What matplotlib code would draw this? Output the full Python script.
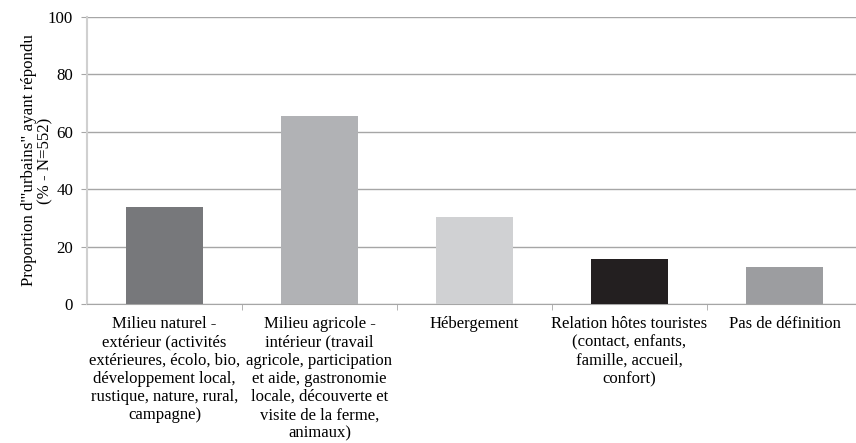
import numpy as np
import matplotlib
matplotlib.use('Agg')
import matplotlib.pyplot as plt

plt.rcParams['font.family'] = ['Liberation Serif', 'DejaVu Serif']

categories = [
    "Milieu naturel -\nextérieur (activités\nextérieures, écolo, bio,\ndéveloppement local,\nrustique, nature, rural,\ncampagne)",
    "Milieu agricole -\nintérieur (travail\nagricole, participation\net aide, gastronomie\nlocale, découverte et\nvisite de la ferme,\nanimaux)",
    "Hébergement",
    "Relation hôtes touristes\n(contact, enfants,\nfamille, accueil,\nconfort)",
    "Pas de définition",
]
values = [33.7, 65.4, 30.3, 15.7, 13.0]
colors = ['#77787b', '#b1b2b5', '#d0d1d3', '#231f20', '#9c9da0']
yticks = [0, 20, 40, 60, 80, 100]

fig = plt.figure(figsize=(8.56, 4.43), dpi=100)
# the plot area runs past the right edge of the picture, as in the original
ax = fig.add_axes([87 / 856, 1 - 304 / 443, 775 / 856, 287 / 443])

x = np.arange(len(values))
ax.bar(x, values, width=0.5, color=colors, zorder=3)

ax.set_xlim(-0.5, len(values) - 0.5)
ax.set_ylim(0, 100)
ax.set_yticks(yticks)
ax.yaxis.grid(True, color='#a6a6a6', linewidth=1.0, zorder=0)

ax.set_xticks(x)
ax.set_xticklabels(categories, fontsize=12.0, linespacing=1.18)
ax.set_xticks(np.arange(0.5, len(values) - 0.5, 1), minor=True)
ax.tick_params(axis='x', which='major', length=0, pad=9)
ax.tick_params(axis='x', which='minor', length=4, color='#a6a6a6', direction='out')
ax.tick_params(axis='y', length=4, color='#a6a6a6', labelsize=12.2, pad=6)

for s in ['top', 'right']:
    ax.spines[s].set_visible(False)
ax.spines['left'].set_color('#d0d0d0')
ax.spines['left'].set_linewidth(1.5)
ax.spines['bottom'].set_color('#a6a6a6')

ax.set_ylabel('Proportion d\'"urbains" ayant répondu\n(% - N=552)',
              fontsize=12.2, linespacing=1.05, labelpad=-4)

plt.savefig("out.png", dpi=100)
